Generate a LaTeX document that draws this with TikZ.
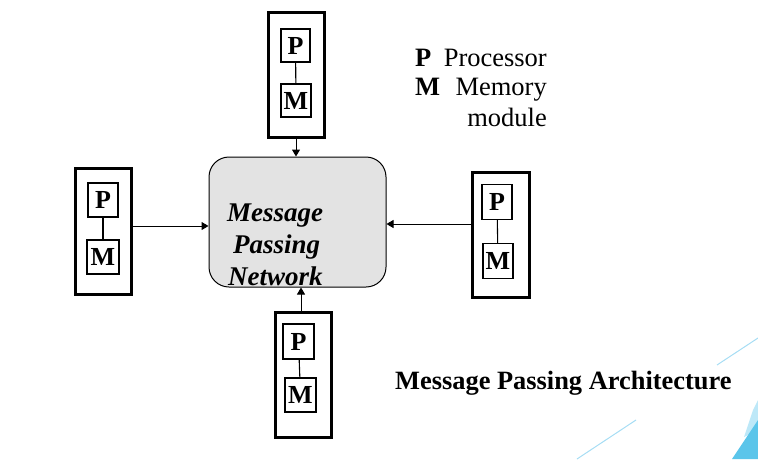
\documentclass[tikz,border=0pt]{standalone}
\usepackage{fontspec}
\setmainfont{Liberation Serif}
\usetikzlibrary{arrows.meta}
\definecolor{netgray}{HTML}{E3E3E3}
\definecolor{lblue}{HTML}{A6DDF4}
\definecolor{dblue}{HTML}{5BC5EA}
\definecolor{pblue}{HTML}{BDE8F8}
\tikzset{
  unitbox/.style={draw, line width=3pt, inner sep=0pt},
  pmbox/.style={draw, line width=1.1pt, fill=white, inner sep=0pt, font=\fontsize{26}{26}\selectfont\bfseries},
  link/.style={line width=1.1pt},
  msgarrow/.style={line width=1pt, -{Triangle[length=7pt,width=8pt]}},
  nettext/.style={font=\fontsize{27}{27}\selectfont\bfseries\itshape, inner sep=0pt, anchor=base west},
  legend/.style={font=\fontsize{26.5}{26.5}\selectfont, inner sep=0pt},
  legendb/.style={font=\fontsize{26.5}{26.5}\selectfont\bfseries, inner sep=0pt},
}
\begin{document}
\begin{tikzpicture}[x=1pt,y=-1pt]
\useasboundingbox (0,0) rectangle (758,459);
% decorations
\draw[lblue, line width=1pt] (717,365) -- (758,338);
\draw[lblue, line width=1pt] (577,459) -- (636,420);
\fill[pblue] (744,437) -- (753,410) -- (758,400) -- (758,430) -- cycle;
\fill[dblue] (732,459) -- (758,420) -- (758,459) -- cycle;

% network
\node[draw, line width=1pt, fill=netgray, rounded corners=20pt, minimum width=177pt, minimum height=130pt] (net) at (297.5,222) {};
\begin{scope}
\clip[rounded corners=20pt] (209,157) rectangle (386,287);
\node[nettext] (t1) at (227,221) {Message};
\node[nettext] (t2) at (233,253) {Passing};
\node[nettext] (t3) at (228,285) {Network};
\end{scope}

% top unit
\node[unitbox, minimum width=56pt, minimum height=125pt] (topU) at (296,74.5) {};
\node[pmbox, minimum width=29pt, minimum height=33pt] (topP) at (295.5,45.5) {P};
\node[pmbox, minimum width=30pt, minimum height=33pt] (topM) at (296,100.5) {M};
\draw[link] (topP) -- (topM);
% left unit
\node[unitbox, minimum width=56pt, minimum height=126pt] (leftU) at (103,231) {};
\node[pmbox, minimum width=30pt, minimum height=34pt] (leftP) at (103,200) {P};
\node[pmbox, minimum width=32pt, minimum height=34pt] (leftM) at (103,257) {M};
\draw[link] (leftP) -- (leftM);
% right unit
\node[unitbox, minimum width=57pt, minimum height=125pt] (rightU) at (501,235) {};
\node[pmbox, minimum width=30pt, minimum height=35pt] (rightP) at (497,202) {P};
\node[pmbox, minimum width=30pt, minimum height=35pt] (rightM) at (498,261) {M};
\draw[link] (rightP) -- (rightM);
% bottom unit
\node[unitbox, minimum width=56pt, minimum height=125pt] (botU) at (303,374.5) {};
\node[pmbox, minimum width=31pt, minimum height=35pt] (botP) at (298.5,341.5) {P};
\node[pmbox, minimum width=31pt, minimum height=34pt] (botM) at (300.5,395) {M};
\draw[link] (botP) -- (botM);

% arrows
\draw[msgarrow] (topU.south) -- (topU.south |- net.north);
\draw[msgarrow] ([yshift=5pt]leftU.east) -- ([yshift=5pt]leftU.east -| net.west);
\draw[msgarrow] ([yshift=11pt]rightU.west) -- ([yshift=11pt]rightU.west -| net.east);
\draw[msgarrow] ([xshift=-2pt]botU.north) -- ([xshift=-2pt]botU.north |- net.south);

% legend
\node[legendb, anchor=base west] (lP) at (415,66) {P};
\node[legend, anchor=base east] (lProc) at (547,66) {Processor};
\node[legendb, anchor=base west] (lM) at (415,95) {M};
\node[legend, anchor=base east] (lMem) at (547,95) {Memory};
\node[legend, anchor=base east] (lMod) at (547,126) {module};

% title
\node[inner sep=0pt, anchor=base west, font=\fontsize{26.4}{26.4}\selectfont\bfseries] (title) at (395,389) {Message Passing Architecture};
\end{tikzpicture}
\end{document}
